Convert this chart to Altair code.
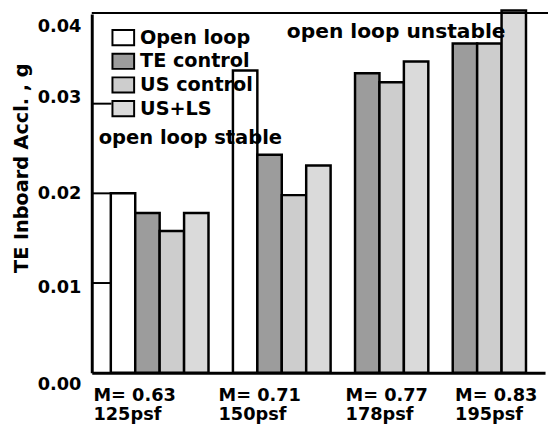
import altair as alt
import pandas as pd

# ---------------- data ----------------
mach = ["0.63", "0.71", "0.77", "0.83"]
psf = ["125psf", "150psf", "178psf", "195psf"]
series = ["Open loop", "TE control", "US control", "US+LS"]
open_loop = [0.0200, 0.0337, None, None]
te_control = [0.0178, 0.0243, 0.0334, 0.0367]
us_control = [0.0158, 0.0198, 0.0324, 0.0367]
us_ls = [0.0178, 0.0231, 0.0347, 0.0404]
y_tick_values = [0.00, 0.01, 0.02, 0.03, 0.04]
inner_tick_values = [0.01, 0.02, 0.03]
annotations = ["open loop stable", "open loop unstable"]
y_title = "TE Inboard Accl. , g"

# ---------------- styles ----------------
FONT = "DejaVu Sans"
fills = ["#ffffff", "#9c9c9c", "#cdcdcd", "#dadada"]
# per-label nudges (pixels) reproducing the scanned label placement
x_label_nudge = [-30, -27, -22, -10]
y_label_nudge = {0.0: 12, 0.01: 5, 0.03: -6, 0.04: 13}

values_by_series = [open_loop, te_control, us_control, us_ls]
rows = []
slot_domain = []
label_map = {}
first_slots = []
for gi in range(len(mach)):
    if gi > 0:
        slot_domain.append(f"gap{gi}")
    first = True
    for si, s in enumerate(series):
        v = values_by_series[si][gi]
        if v is None:
            continue
        slot = f"{gi}|{s}"
        slot_domain.append(slot)
        rows.append({"slot": slot, "series": s, "value": v})
        if first:
            label_map[slot] = (f"M= {mach[gi]}", psf[gi])
            first_slots.append(slot)
            first = False
df = pd.DataFrame(rows)

label_expr = " : ".join(
    f"datum.value == '{k}' ? ['{a}', '{b}']" for k, (a, b) in label_map.items()
) + " : ''"

x_offset_cond = {
    "condition": [
        {"test": f"datum.value == '{s}'", "value": o}
        for s, o in zip(first_slots, x_label_nudge)
    ],
    "value": -20,
}
y_offset_cond = {
    "condition": [
        {"test": f"abs(datum.value - {k}) < 0.0001", "value": o}
        for k, o in y_label_nudge.items()
    ],
    "value": 0,
}

x_scale = alt.Scale(domain=slot_domain, paddingInner=0, paddingOuter=0.78)
y_scale = alt.Scale(domain=[0, 0.04], nice=False, zero=True)

y_axis = alt.Axis(
    title=y_title,
    values=y_tick_values,
    format=".2f",
    labelFont=FONT,
    labelFontSize=18,
    labelFontWeight="bold",
    labelColor="black",
    labelPadding=11,
    labelOffset=y_offset_cond,
    ticks=False,
    grid=False,
    domainColor="black",
    domainWidth=3,
    titleFont=FONT,
    titleFontSize=19.5,
    titleFontWeight="bold",
    titleColor="black",
    titleX=-71,
    titleY=156,
    titleBaseline="middle",
)

bars = alt.Chart(df).mark_bar(stroke="black", strokeWidth=2.5).encode(
    x=alt.X(
        "slot:N",
        scale=x_scale,
        sort=slot_domain,
        axis=alt.Axis(
            title=None,
            labelExpr=label_expr,
            labelAngle=0,
            labelAlign="left",
            labelBaseline="top",
            labelOffset=x_offset_cond,
            labelFont=FONT,
            labelFontSize=18,
            labelFontWeight="bold",
            labelColor="black",
            labelPadding=14,
            labelLineHeight=20,
            labelOverlap=False,
            ticks=False,
            domainColor="black",
            domainWidth=3,
            grid=False,
        ),
    ),
    y=alt.Y("value:Q", scale=y_scale, axis=y_axis),
    fill=alt.Fill(
        "series:N",
        scale=alt.Scale(domain=series, range=fills),
        legend=alt.Legend(
            title=None,
            orient="none",
            legendX=20,
            legendY=12,
            symbolType="M-1,-0.7H1V0.7H-1Z",
            symbolSize=484,
            symbolStrokeColor="black",
            symbolStrokeWidth=2,
            symbolOpacity=1,
            labelFont=FONT,
            labelFontSize=19.5,
            labelFontWeight="bold",
            labelColor="black",
            labelOffset=5,
            rowPadding=-2.2,
            padding=0,
        ),
    ),
)

ticks = alt.Chart(pd.DataFrame({"value": inner_tick_values})).mark_rule(
    color="black", strokeWidth=2
).encode(
    y=alt.Y("value:Q", scale=y_scale, axis=y_axis),
    x=alt.value(0),
    x2=alt.value(20),
)

txt_stable = alt.Chart(pd.DataFrame({"t": [annotations[0]]})).mark_text(
    align="left", baseline="middle", font=FONT, fontSize=19.8, fontWeight="bold", color="black"
).encode(text="t:N", x=alt.value(7), y=alt.value(126))

txt_unstable = alt.Chart(pd.DataFrame({"t": [annotations[1]]})).mark_text(
    align="left", baseline="middle", font=FONT, fontSize=20.5, fontWeight="bold", color="black"
).encode(text="t:N", x=alt.value(198), y=alt.value(18))

top_rule = alt.Chart(pd.DataFrame({"a": [0]})).mark_rule(color="black", strokeWidth=2).encode(
    x=alt.value(0), x2=alt.value(463), y=alt.value(-1)
)

chart = alt.layer(ticks, bars, txt_stable, txt_unstable, top_rule).properties(
    width=460,
    height=364,
    autosize=alt.AutoSizeParams(type="none"),
    padding={"left": 85, "top": 3, "right": 3, "bottom": 50},
).configure_view(stroke=None)

chart.save("out.html", embed_options={"renderer": "svg", "actions": False})
